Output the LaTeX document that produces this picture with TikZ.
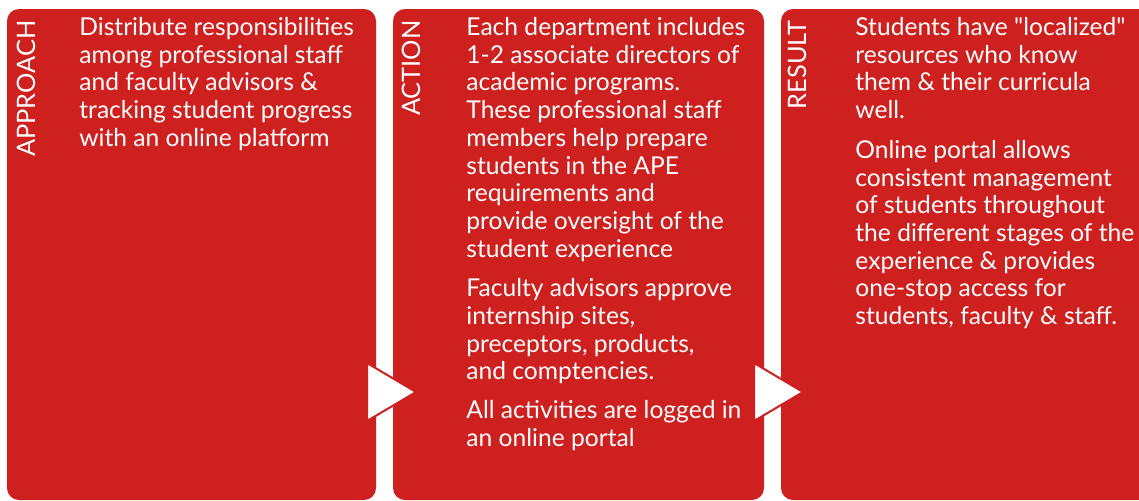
\documentclass[tikz,border=0pt]{standalone}
\usepackage{fontspec}
\setmainfont{Lato}
\definecolor{panelred}{RGB}{205,32,31}
\tikzset{
    panel/.style={fill=panelred, rounded corners=6pt},
    tag/.style={rotate=90, anchor=east, inner sep=0pt, text=white,
        font=\fontsize{12.7}{15}\selectfont},
    body/.style={anchor=north west, inner sep=0pt, text=white, align=left,
        font=\fontsize{12.3}{13.85}\selectfont},
    pointer/.style={fill=white, draw=panelred, line width=1pt}
}
\begin{document}
\begin{tikzpicture}[x=0.5pt,y=-0.5pt]
    \useasboundingbox (0,0) rectangle (1139,500);
    % three panels
    \path[panel] (7,9) rectangle (376,500);
    \path[panel] (393,9) rectangle (764,500);
    \path[panel] (781,9) rectangle (1150,500);
    % arrows between the panels
    \path[pointer] (367,363) -- (416,392) -- (367,421) -- cycle;
    \path[pointer] (754,363) -- (803,392) -- (754,421) -- cycle;
    % side labels
    \node[tag] (approach) at (26,20) {APPROACH};
    \node[tag] (action) at (411,20) {ACTION};
    \node[tag] (result) at (797,20) {RESULT};
    % panel texts
    \node[body] (approachtext) at (79,17) {Distribute responsibilities\\
        among professional staff\\ and faculty advisors \&\\
        tracking student progress\\ with an online platform};
    \node[body] (actiontext) at (466,17) {Each department includes\\
        1-2 associate directors of\\ academic programs.\\
        These professional staff\\ members help prepare\\
        students in the APE\\ requirements and\\
        provide oversight of the\\ student experience\\[6pt]
        Faculty advisors approve\\ internship sites,\\
        preceptors, products,\\ and comptencies.\\[5.5pt]
        All activities are logged in\\ an online portal};
    \node[body] (resulttext) at (855,17) {Students have \textquotedbl localized\textquotedbl\\
        resources who know\\ them \& their curricula\\ well.\\[6pt]
        Online portal allows\\ consistent management\\
        of students throughout\\ the different stages of the\\
        experience \& provides\\ one-stop access for\\
        students, faculty \& staff.};
\end{tikzpicture}
\end{document}
